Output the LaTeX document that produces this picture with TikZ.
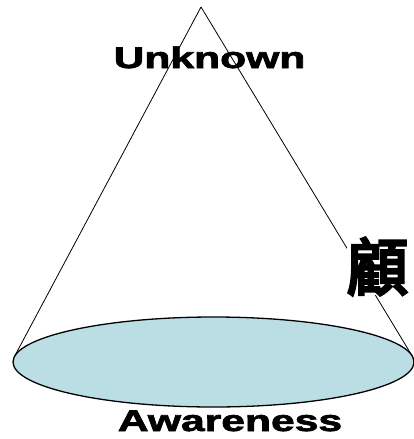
\documentclass[tikz,border=0pt]{standalone}
\usepackage{fontspec}
\setmainfont{Liberation Sans}
\newfontfamily\heavy[FakeBold=2]{Liberation Sans Bold}
\newfontfamily\cjk[FakeBold=5]{Noto Sans CJK SC}
\definecolor{basefill}{RGB}{187,222,229}
\tikzset{
  coneline/.style={draw=black, line width=0.8pt},
  basedisk/.style={draw=black, line width=1.3pt, fill=basefill},
  biglabel/.style={font=\heavy\fontsize{29.8}{30}\selectfont, inner sep=0pt, xscale=1.43, anchor=base},
  cjklabel/.style={font=\cjk\fontsize{62}{64}\selectfont, inner sep=0pt, fill=white}
}
\begin{document}
\begin{tikzpicture}[x=1pt,y=-1pt]
\useasboundingbox (0,0) rectangle (414,439);
\coordinate (apex) at (201,7);
\coordinate (tl) at (14.4,356.6);
\coordinate (tr) at (412.2,356);
\coordinate (c) at (213.5,362);
\draw[coneline] (apex) -- (tl);
\draw[coneline] (apex) -- (tr);
\node[cjklabel] (cjk) at (377.5,266.5) {顧};
\draw[basedisk] (c) ellipse [x radius=200.5pt, y radius=45pt];
\node[biglabel] (unknown) at (209.5,68) {Unknown};
\node[biglabel] (aware) at (230,431) {Awareness};
\end{tikzpicture}
\end{document}
